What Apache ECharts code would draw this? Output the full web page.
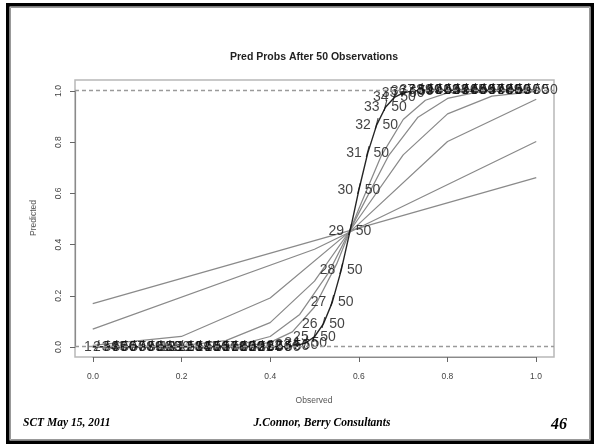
<!DOCTYPE html>
<html><head><meta charset="utf-8">
<script src="https://cdn.jsdelivr.net/npm/echarts@6/dist/echarts.min.js"></script>
<style>html,body{margin:0;padding:0;background:#fff}#c{width:594px;height:444px}</style>
</head><body><div id="c"></div>
<script>
const chartTitle = 'Pred Probs After 50 Observations';
const xAxisName = 'Observed';
const yAxisName = 'Predicted';
const tickStep = 0.2;
// gray curves: predictive probability at points k/n
const predN1 = [0.168, 0.659];
const predN2 = [0.069, 0.38, 0.80];
const predN5 = [0.005, 0.04, 0.19, 0.479, 0.80, 0.965];
const predN10 = [0, 0.0005, 0.004, 0.024, 0.094, 0.256, 0.502, 0.748, 0.908, 0.977, 0.996];
const predN15 = [0, 0, 0, 0.0002, 0.0016, 0.0094, 0.040, 0.126, 0.293, 0.522, 0.744, 0.895, 0.968, 0.993, 0.999, 1];
const predN20 = [0, 0, 0, 0, 0, 0.0001, 0.0006, 0.0037, 0.0168, 0.058, 0.155, 0.323, 0.538, 0.743, 0.886, 0.961, 0.990, 0.998, 1, 1, 1];
// black curve, k = 0..50 out of 50
const predN50 = [0,0,0,0,0,0,0,0,0,0, 0,0,0,0,0,0,0,0,0,0,
  0.0001, 0.0003, 0.0014, 0.005, 0.015, 0.039, 0.089, 0.173, 0.297, 0.45,
  0.611, 0.755, 0.864, 0.934, 0.972, 0.99, 0.997, 0.999,
  1,1,1,1,1,1,1,1,1,1,1,1,1];
const totalN = 50;
const footerLeft = 'SCT May 15, 2011';
const footerMid = 'J.Connor, Berry Consultants';
const pageNum = '46';

const toPts = arr => arr.map((v, i) => [i / (arr.length - 1), v]);
const grayCurves = [predN1, predN2, predN5, predN10, predN15, predN20];

const series = grayCurves.map((arr, idx) => ({
  type: 'line', xAxisIndex: 0, yAxisIndex: 0, data: toPts(arr), symbol: 'none', silent: true, z: 2,
  lineStyle: { color: '#8a8a8a', width: 1.25 },
  markLine: idx === 0 ? {
    silent: true, symbol: ['none', 'none'], label: { show: false },
    lineStyle: { color: '#9a9a9a', width: 1.3, type: [4, 3] },
    data: [{ yAxis: 0 }, { yAxis: 1 }]
  } : undefined
}));
series.push({
  type: 'line', xAxisIndex: 0, yAxisIndex: 0, data: toPts(predN50), symbol: 'none', silent: true, z: 3,
  lineStyle: { color: '#262626', width: 1.4 }
});
series.push({
  type: 'scatter', xAxisIndex: 0, yAxisIndex: 0, symbolSize: 1, itemStyle: { color: 'rgba(0,0,0,0)' }, silent: true, z: 4,
  data: predN50.slice(1).map((v, i) => [(i + 1) / totalN, v, (i + 1) + ' / ' + totalN]),
  label: { show: true, position: 'inside', formatter: p => p.value[2],
    fontSize: 14, fontFamily: 'Liberation Sans', color: '#111' }
});

const hiddenAxis = { type: 'value', min: -0.04, max: 1.04, show: false, axisLine: { onZero: false } };
const tickAxisCommon = {
  type: 'value', min: 0, max: 1, interval: tickStep, splitLine: { show: false },
  axisLine: { show: true, onZero: false, lineStyle: { color: '#8a8a8a', width: 1.2 } },
  axisTick: { show: true, length: 5, lineStyle: { color: '#666', width: 1 } }
};

const chart = echarts.init(document.getElementById('c'), null, { renderer: 'canvas' });
chart.setOption({
  animation: false,
  backgroundColor: '#fff',
  grid: [
    { left: 75, right: 40, top: 80, bottom: 87, show: true, borderColor: '#b8b8b8', borderWidth: 1.5 },
    { left: 93, right: 58, top: 91, bottom: 97 }
  ],
  xAxis: [
    Object.assign({ gridIndex: 0 }, hiddenAxis),
    Object.assign({ gridIndex: 1, position: 'bottom', offset: 10,
      axisLabel: { formatter: v => v.toFixed(1), fontSize: 8.5, color: '#444', margin: 15, fontFamily: 'Liberation Sans' } }, tickAxisCommon)
  ],
  yAxis: [
    Object.assign({ gridIndex: 0 }, hiddenAxis),
    Object.assign({ gridIndex: 1, position: 'left', offset: 18,
      axisLabel: { formatter: v => v.toFixed(1), rotate: 90, fontSize: 8.5, color: '#444', margin: 12, fontFamily: 'Liberation Sans' } }, tickAxisCommon)
  ],
  series: series,
  graphic: [
    { type: 'rect', shape: { x: 7.75, y: 4.75, width: 584.5, height: 437.5 }, style: { fill: 'none', stroke: '#000', lineWidth: 3.5 }, silent: true },
    { type: 'rect', shape: { x: 10.5, y: 7.5, width: 579, height: 432 }, style: { fill: 'none', stroke: '#999', lineWidth: 1 }, silent: true },
    { type: 'text', x: 314, y: 57, style: { text: chartTitle, fontSize: 10.5, fontWeight: 'bold', fontFamily: 'Liberation Sans', fill: '#222', textAlign: 'center', textVerticalAlign: 'middle' } },
    { type: 'text', x: 314, y: 401, style: { text: xAxisName, fontSize: 8.5, fontFamily: 'Liberation Sans', fill: '#555', textAlign: 'center', textVerticalAlign: 'middle' } },
    { type: 'text', x: 34, y: 218, rotation: Math.PI / 2, style: { text: yAxisName, fontSize: 8.5, fontFamily: 'Liberation Sans', fill: '#555', textAlign: 'center', textVerticalAlign: 'middle' } },
    { type: 'text', x: 23, y: 423, style: { text: footerLeft, fontSize: 11.5, fontWeight: 'bold', fontStyle: 'italic', fontFamily: 'Liberation Serif', fill: '#000', textAlign: 'left', textVerticalAlign: 'middle' } },
    { type: 'text', x: 322, y: 423, style: { text: footerMid, fontSize: 11.5, fontWeight: 'bold', fontStyle: 'italic', fontFamily: 'Liberation Serif', fill: '#000', textAlign: 'center', textVerticalAlign: 'middle' } },
    { type: 'text', x: 559, y: 425, style: { text: pageNum, fontSize: 16, fontWeight: 'bold', fontStyle: 'italic', fontFamily: 'Liberation Serif', fill: '#000', textAlign: 'center', textVerticalAlign: 'middle' } }
  ]
});
</script></body></html>
